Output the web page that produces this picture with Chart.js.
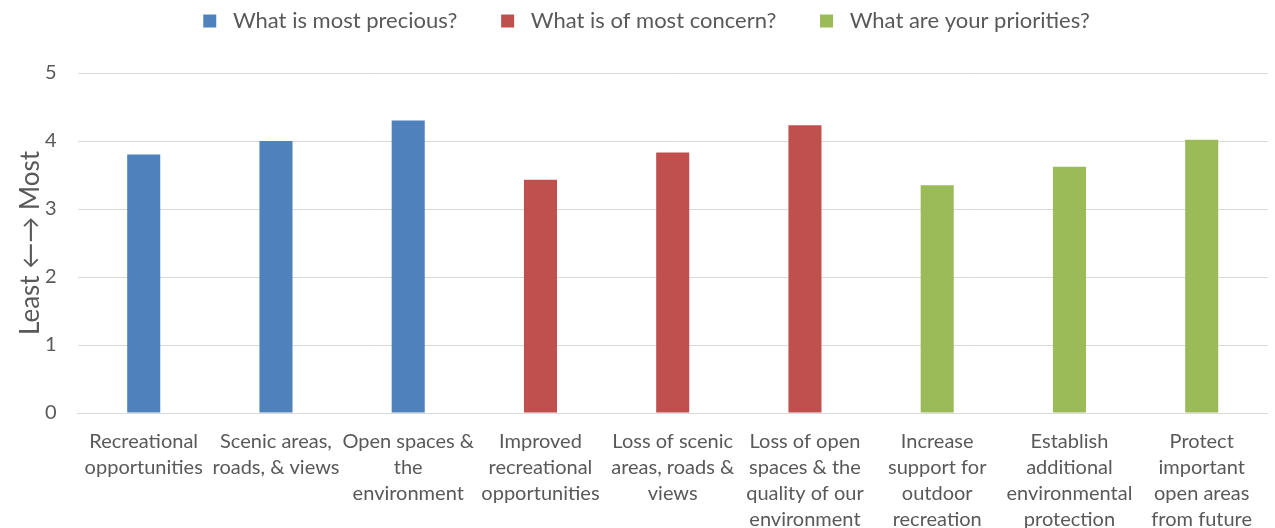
<!DOCTYPE html>
<html>
<head>
<meta charset="utf-8">
<script src="https://cdn.jsdelivr.net/npm/chart.js@4"></script>
<style>
  html, body { margin: 0; padding: 0; background: #fff; overflow: hidden; }
  #wrap { width: 1275px; height: 575px; position: relative; }
</style>
</head>
<body>
<div id="wrap"><canvas id="myChart"></canvas></div>
<script>
// Categories (multi-line labels as shown under the bars)
var categories = [
    ['Recreational', 'opportunities'],
    ['Scenic areas,', 'roads, & views'],
    ['Open spaces &', 'the', 'environment'],
    ['Improved', 'recreational', 'opportunities'],
    ['Loss of scenic', 'areas, roads &', 'views'],
    ['Loss of open', 'spaces & the', 'quality of our', 'environment'],
    ['Increase', 'support for', 'outdoor', 'recreation'],
    ['Establish', 'additional', 'environmental', 'protection'],
    ['Protect', 'important', 'open areas', 'from future', 'development']
];

// Series values (null where a question has no bar)
var precious = [3.8, 4.0, 4.3, null, null, null, null, null, null];
var concern = [null, null, null, 3.43, 3.83, 4.23, null, null, null];
var priorities = [null, null, null, null, null, null, 3.35, 3.62, 4.02];

var seriesNames = ['What is most precious?', 'What is of most concern?', 'What are your priorities?'];
var yTicks = [0, 1, 2, 3, 4, 5];

document.addEventListener('DOMContentLoaded', function () {
    var ctx = document.getElementById('myChart').getContext('2d');
    var textColor = '#595959';
    var fontFamily = 'Lato, "Open Sans", sans-serif';

    // give the legend some extra room below it
    var legendSpace = {
        id: 'legendSpace',
        beforeInit: function (chart) {
            var fit = chart.legend.fit;
            chart.legend.fit = function () {
                fit.call(this);
                this.height += 31;
            };
        }
    };

    new Chart(ctx, {
        type: 'bar',
        data: {
            labels: categories,
            datasets: [
                { label: seriesNames[0], data: precious, backgroundColor: '#4F81BD' },
                { label: seriesNames[1], data: concern, backgroundColor: '#C0504D' },
                { label: seriesNames[2], data: priorities, backgroundColor: '#9BBB59' }
            ]
        },
        plugins: [legendSpace],
        options: {
            responsive: true,
            maintainAspectRatio: false,
            animation: false,
            skipNull: true,
            categoryPercentage: 1.0,
            barPercentage: 0.25,
            layout: { padding: { top: 0, right: 0, left: 18, bottom: 0 } },
            plugins: {
                legend: {
                    position: 'top',
                    labels: {
                        boxWidth: 13,
                        boxHeight: 13,
                        padding: 10,
                        color: textColor,
                        font: { family: fontFamily, size: 22 },
                        generateLabels: function (chart) {
                            var items = Chart.defaults.plugins.legend.labels.generateLabels(chart);
                            items.forEach(function (it, i) {
                                it.text = ' ' + it.text;
                                if (i < items.length - 1) it.text = it.text + '      ';
                            });
                            return items;
                        }
                    }
                },
                tooltip: { enabled: false }
            },
            scales: {
                x: {
                    grid: { display: false, drawTicks: false },
                    border: { color: '#d9d9d9' },
                    ticks: {
                        color: textColor,
                        maxRotation: 0,
                        autoSkip: false,
                        padding: 16,
                        font: { family: fontFamily, size: 20, lineHeight: 1.3 }
                    }
                },
                y: {
                    min: 0,
                    max: 5,
                    afterBuildTicks: function (axis) {
                        axis.ticks = yTicks.map(function (v) { return { value: v }; });
                    },
                    grid: { color: '#d9d9d9', drawTicks: false },
                    border: { display: false },
                    ticks: {
                        color: textColor,
                        padding: 21,
                        font: { family: fontFamily, size: 20 }
                    },
                    title: {
                        display: true,
                        text: 'Least \u2190\u2192 Most',
                        color: textColor,
                        padding: { top: 0, bottom: -20 },
                        font: { family: fontFamily, size: 26, lineHeight: 1.0 }
                    }
                }
            }
        }
    });
});
</script>
</body>
</html>
